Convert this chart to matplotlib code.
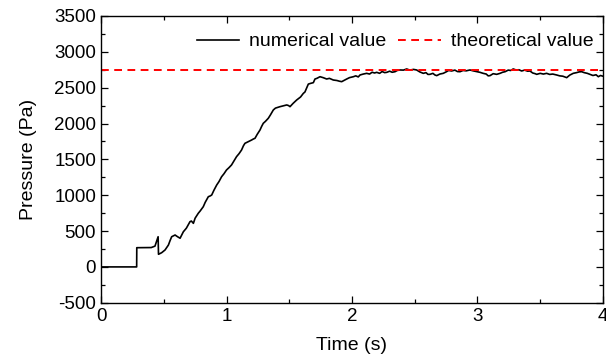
import numpy as np
import matplotlib
matplotlib.use('Agg')
from matplotlib import pyplot as plt
from matplotlib.ticker import MultipleLocator

plt.rcParams['font.family'] = ['Liberation Sans', 'DejaVu Sans']
plt.rcParams['axes.unicode_minus'] = False

# numerical pressure trace (s, Pa)
time = [
    0.00, 0.284, 0.285, 0.40, 0.43, 0.455, 0.458, 0.483, 0.51, 0.537,
    0.55, 0.563, 0.59, 0.61, 0.63, 0.656, 0.68, 0.709, 0.72, 0.736,
    0.75, 0.775, 0.79, 0.815, 0.83, 0.855, 0.87, 0.882, 0.90, 0.922,
    0.94, 0.961, 0.98, 1.00, 1.02, 1.04, 1.06, 1.08, 1.10, 1.12,
    1.135, 1.147, 1.16, 1.174, 1.19, 1.20, 1.215, 1.227, 1.245, 1.267,
    1.28, 1.293, 1.31, 1.333, 1.35, 1.373, 1.39, 1.426, 1.45, 1.48,
    1.495, 1.506, 1.53, 1.559, 1.59, 1.612, 1.625, 1.652, 1.67, 1.692,
    1.705, 1.72, 1.745, 1.77, 1.798, 1.82, 1.851, 1.88, 1.90, 1.918,
    1.94, 1.958, 1.98, 2.011, 2.03, 2.05, 2.064, 2.09, 2.117, 2.14,
    2.16, 2.18, 2.197, 2.22, 2.24, 2.26, 2.277, 2.30, 2.32, 2.343,
    2.36, 2.382, 2.41, 2.436, 2.46, 2.49, 2.515, 2.54, 2.568, 2.59,
    2.605, 2.621, 2.645, 2.66, 2.675, 2.70, 2.727, 2.75, 2.77, 2.794,
    2.82, 2.84, 2.861, 2.885, 2.91, 2.94, 2.965, 2.99, 3.02, 3.045,
    3.07, 3.085, 3.10, 3.125, 3.153, 3.18, 3.20, 3.22, 3.245, 3.265,
    3.285, 3.31, 3.33, 3.352, 3.375, 3.40, 3.418, 3.44, 3.46, 3.472,
    3.50, 3.525, 3.551, 3.575, 3.60, 3.631, 3.655, 3.68, 3.711, 3.735,
    3.763, 3.79, 3.81, 3.83, 3.85, 3.875, 3.896, 3.92, 3.945, 3.963,
    3.98, 4.00,
]
pressure = [
    0, 0, 268, 270, 290, 421, 176, 198, 236, 305,
    366, 421, 445, 421, 400, 490, 540, 631, 640, 608,
    680, 748, 780, 840, 900, 979, 990, 1003, 1070, 1143,
    1190, 1258, 1300, 1352, 1385, 1422, 1480, 1538, 1580, 1631,
    1690, 1724, 1735, 1747, 1760, 1770, 1785, 1794, 1850, 1910,
    1960, 2003, 2030, 2073, 2120, 2189, 2215, 2235, 2245, 2259,
    2250, 2235, 2280, 2328, 2370, 2420, 2440, 2550, 2560, 2570,
    2621, 2630, 2653, 2640, 2621, 2630, 2607, 2600, 2590, 2584,
    2605, 2621, 2640, 2653, 2665, 2650, 2677, 2690, 2700, 2690,
    2715, 2705, 2714, 2700, 2725, 2710, 2714, 2730, 2715, 2723,
    2740, 2747, 2745, 2761, 2745, 2755, 2747, 2720, 2700, 2710,
    2685, 2686, 2700, 2678, 2668, 2690, 2700, 2720, 2740, 2733,
    2745, 2725, 2723, 2740, 2735, 2747, 2735, 2725, 2714, 2700,
    2690, 2665, 2668, 2695, 2686, 2700, 2715, 2723, 2745, 2740,
    2761, 2745, 2750, 2733, 2745, 2730, 2733, 2705, 2695, 2686,
    2700, 2690, 2700, 2685, 2690, 2677, 2665, 2660, 2640, 2675,
    2700, 2710, 2720, 2723, 2710, 2700, 2686, 2670, 2680, 2653,
    2670, 2660,
]
theory_value = 2750

fig = plt.figure(figsize=(6.06, 3.6), dpi=100)
ax = fig.add_axes([0.1667, 0.159, 0.8283, 0.7966])

ax.plot(time, pressure, color='black', lw=1.2, label='numerical value')
ax.axhline(theory_value, color='red', lw=1.4, ls=(0, (4, 2.8)),
           label='theoretical value')

ax.set_xlim(0, 4)
ax.set_ylim(-500, 3500)
ax.xaxis.set_major_locator(MultipleLocator(1))
ax.xaxis.set_minor_locator(MultipleLocator(0.5))
ax.yaxis.set_major_locator(MultipleLocator(500))
ax.yaxis.set_minor_locator(MultipleLocator(250))
ax.tick_params(which='both', direction='in', top=True, right=True,
               labelsize=13.5, width=0.9)
ax.tick_params(which='major', length=5)
ax.tick_params(which='minor', length=3)
for sp in ax.spines.values():
    sp.set_linewidth(1.0)

ax.set_xlabel('Time (s)', fontsize=14, labelpad=9)
ax.set_ylabel('Pressure (Pa)', fontsize=14, labelpad=12)

ax.legend(loc='upper right', ncol=2, frameon=False, fontsize=14,
          handlelength=2.2, columnspacing=0.6, handletextpad=0.5,
          borderaxespad=0.1, bbox_to_anchor=(1.0, 0.975))

fig.savefig('out.png', dpi=100)
